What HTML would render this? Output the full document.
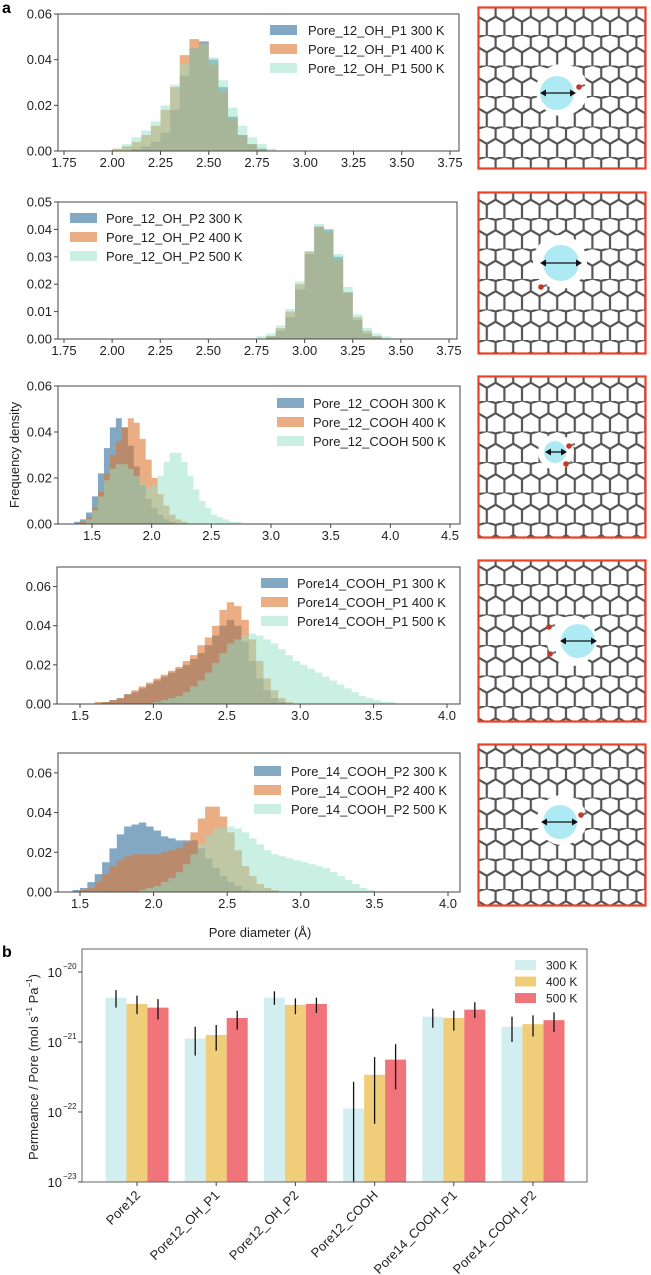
<!DOCTYPE html>
<html><head><meta charset="utf-8"><style>
html,body{margin:0;padding:0;background:#fff;overflow:hidden}
svg{display:block;font-family:"Liberation Sans",Arial,sans-serif}
</style></head><body>
<svg id="fig" width="651" height="1275" viewBox="0 0 651 1275" xmlns="http://www.w3.org/2000/svg">
<defs>
<pattern id="hex" patternUnits="userSpaceOnUse" width="17.6" height="30.5" x="478" y="4">
<path d="M0,2.54 L8.8,0 L17.6,2.54 M0,2.54 L0,12.7 M17.6,2.54 L17.6,12.7 M0,12.7 L8.8,17.8 L17.6,12.7 M8.8,17.8 L8.8,30.5" stroke="#555" stroke-width="2.2" fill="none"/>
</pattern>
</defs>
<text x="2" y="13" font-size="16" font-weight="bold">a</text>
<text x="2" y="957" font-size="16" font-weight="bold">b</text>
<text x="260" y="937" font-size="13" text-anchor="middle" fill="#222">Pore diameter (Å)</text>
<text transform="translate(19,455) rotate(-90)" font-size="13" text-anchor="middle" fill="#222">Frequency density</text>
<g id="hists"></g>
<g id="mols"></g>
<g id="bars"></g>
</svg>
<script>
// ---------- histogram data (bin width 0.05) ----------
const h1Start = 1.95;
const h1_300 = [0,0,0,0.001,0.002,0.004,0.008,0.018,0.033,0.045,0.048,0.040,0.028,0.015,0.007,0.003,0.001,0,0,0];
const h1_400 = [0,0.001,0.002,0.004,0.007,0.011,0.018,0.028,0.042,0.049,0.047,0.038,0.026,0.014,0.007,0.003,0.001,0,0,0];
const h1_500 = [0,0.001,0.003,0.006,0.009,0.013,0.020,0.029,0.038,0.045,0.047,0.041,0.031,0.019,0.011,0.006,0.003,0.001,0,0];
const h2Start = 2.75;
const h2_300 = [0,0.001,0.003,0.008,0.018,0.031,0.041,0.040,0.030,0.017,0.007,0.002,0.001,0];
const h2_400 = [0,0.001,0.004,0.010,0.020,0.032,0.041,0.039,0.029,0.017,0.008,0.003,0.001,0];
const h2_500 = [0.001,0.002,0.005,0.011,0.021,0.032,0.042,0.040,0.031,0.019,0.009,0.004,0.002,0.001];
const h3Start = 1.35;
const h3_300 = [0.001,0.002,0.005,0.012,0.022,0.033,0.042,0.046,0.042,0.034,0.025,0.017,0.011,0.007,0.004,0.002,0.001,0];
const h3_400 = [0,0.001,0.003,0.007,0.014,0.022,0.030,0.036,0.042,0.046,0.044,0.037,0.028,0.020,0.013,0.008,0.004,0.002,0.001];
const h3_500 = [0,0,0.002,0.006,0.012,0.019,0.024,0.026,0.026,0.024,0.021,0.018,0.016,0.017,0.021,0.027,0.031,0.031,0.027,0.021,0.015,0.010,0.007,0.004,0.003,0.002,0.001,0.001];
const h4Start = 1.6;
const h4_300 = [0,0.001,0.002,0.003,0.005,0.006,0.008,0.010,0.012,0.014,0.016,0.018,0.020,0.023,0.026,0.030,0.035,0.040,0.043,0.040,0.032,0.022,0.013,0.007,0.003,0.001];
const h4_400 = [0.001,0.001,0.002,0.003,0.005,0.007,0.009,0.011,0.013,0.015,0.017,0.019,0.022,0.025,0.030,0.034,0.040,0.048,0.052,0.050,0.043,0.033,0.022,0.013,0.007,0.003,0.001];
const h4_500 = [0,0,0,0,0,0,0,0,0.001,0.002,0.003,0.004,0.006,0.009,0.012,0.016,0.021,0.026,0.031,0.033,0.035,0.036,0.035,0.033,0.031,0.028,0.025,0.022,0.020,0.018,0.016,0.014,0.012,0.010,0.008,0.006,0.004,0.003,0.002,0.001,0.001];
const h5Start = 1.45;
const h5_300 = [0.001,0.002,0.005,0.009,0.015,0.022,0.029,0.033,0.034,0.035,0.033,0.031,0.028,0.027,0.026,0.026,0.026,0.022,0.017,0.012,0.008,0.005,0.003,0.001];
const h5_400 = [0,0.001,0.002,0.005,0.009,0.013,0.016,0.018,0.019,0.019,0.019,0.019,0.020,0.021,0.022,0.025,0.030,0.037,0.043,0.043,0.038,0.030,0.021,0.013,0.008,0.004,0.002,0.001];
const h5_500 = [0,0,0,0,0,0,0,0,0,0.001,0.002,0.003,0.005,0.007,0.010,0.014,0.019,0.024,0.029,0.032,0.033,0.033,0.032,0.030,0.027,0.024,0.021,0.019,0.018,0.017,0.016,0.015,0.014,0.013,0.012,0.010,0.008,0.006,0.004,0.002,0.001];

const legendNames = ["Pore_12_OH_P1","Pore_12_OH_P2","Pore_12_COOH","Pore14_COOH_P1","Pore_14_COOH_P2"];
const tempLabels = ["300 K","400 K","500 K"];

// ---------- bar chart data ----------
const barCategories = ["Pore12","Pore12_OH_P1","Pore12_OH_P2","Pore12_COOH","Pore14_COOH_P1","Pore14_COOH_P2"];
const perm300 = [4.3e-21,1.12e-21,4.3e-21,1.12e-22,2.3e-21,1.65e-21];
const perm400 = [3.5e-21,1.26e-21,3.4e-21,3.4e-22,2.2e-21,1.8e-21];
const perm500 = [3.1e-21,2.2e-21,3.5e-21,5.6e-22,2.9e-21,2.05e-21];
const err300Lo = [3.1e-21,6.4e-22,3.4e-21,1e-23,1.6e-21,1.0e-21];
const err300Hi = [5.5e-21,1.65e-21,5.3e-21,2.7e-22,3.0e-21,2.3e-21];
const err400Lo = [2.5e-21,7.5e-22,2.5e-21,6.8e-23,1.45e-21,1.2e-21];
const err400Hi = [4.6e-21,1.75e-21,4.2e-21,6.1e-22,2.8e-21,2.4e-21];
const err500Lo = [2.1e-21,1.5e-21,2.6e-21,2.1e-22,2.2e-21,1.4e-21];
const err500Hi = [4.1e-21,2.8e-21,4.3e-21,9.3e-22,3.7e-21,2.65e-21];
const barYTickExp = [-20,-21,-22,-23];

const NS="http://www.w3.org/2000/svg";
function mk(tag,attrs,parent){const e=document.createElementNS(NS,tag);for(const k in attrs)e.setAttribute(k,attrs[k]);if(parent)parent.appendChild(e);return e;}

const histColors=[["rgb(55,115,160)",0.62],["rgb(222,118,48)",0.6],["rgb(150,225,200)",0.5]];

const panels=[
 {top:14,bot:151,left:58,right:459,x0:1.75,x1:3.75,xpx0:64,xpx1:450,ymax:0.06,yt:[0,0.02,0.04,0.06],yd:2,xt:[1.75,2,2.25,2.5,2.75,3,3.25,3.5,3.75],xd:2,start:h1Start,data:[h1_300,h1_400,h1_500],lg:{sx:270,tx:308,y:30}},
 {top:202,bot:339,left:58,right:457,x0:1.75,x1:3.75,xpx0:64,xpx1:449,ymax:0.05,yt:[0,0.01,0.02,0.03,0.04,0.05],yd:2,xt:[1.75,2,2.25,2.5,2.75,3,3.25,3.5,3.75],xd:2,start:h2Start,data:[h2_300,h2_400,h2_500],lg:{sx:70,tx:106,y:218}},
 {top:386,bot:524,left:58,right:460,x0:1.5,x1:4.5,xpx0:92,xpx1:450,ymax:0.06,yt:[0,0.02,0.04,0.06],yd:2,xt:[1.5,2,2.5,3,3.5,4,4.5],xd:1,start:h3Start,data:[h3_300,h3_400,h3_500],lg:{sx:277,tx:313,y:403}},
 {top:567,bot:704,left:57,right:460,x0:1.5,x1:4.0,xpx0:80,xpx1:447,ymax:0.07,yt:[0,0.02,0.04,0.06],yd:2,xt:[1.5,2,2.5,3,3.5,4],xd:1,start:h4Start,data:[h4_300,h4_400,h4_500],lg:{sx:261,tx:297,y:583}},
 {top:753,bot:892,left:58,right:460,x0:1.5,x1:4.0,xpx0:80,xpx1:448,ymax:0.07,yt:[0,0.02,0.04,0.06],yd:2,xt:[1.5,2,2.5,3,3.5,4],xd:1,start:h5Start,data:[h5_300,h5_400,h5_500],lg:{sx:254,tx:291,y:771}}
];

const hg=document.getElementById('hists');
panels.forEach((p,pi)=>{
  const g=mk('g',{},hg);
  
  
  const X=v=>p.xpx0+(v-p.x0)*(p.xpx1-p.xpx0)/(p.x1-p.x0);
  const Y=v=>p.bot-v*(p.bot-p.top)/p.ymax;
  p.data.forEach((arr,si)=>{
    let d='M'+X(p.start)+','+Y(0);
    arr.forEach((v,i)=>{const a=X(p.start+i*0.05),b=X(p.start+(i+1)*0.05);d+=' L'+a+','+Y(v)+' L'+b+','+Y(v);});
    d+=' L'+X(p.start+arr.length*0.05)+','+Y(0)+'Z';
    const path=mk('path',{d:d,fill:histColors[si][0],'fill-opacity':histColors[si][1]},g);
    
    
  });
  const frame=mk('rect',{x:p.left,y:p.top,width:p.right-p.left,height:p.bot-p.top,fill:'none',stroke:'#444','stroke-width':1},g);
  
  
  p.yt.forEach(v=>{
    mk('line',{x1:p.left-4,x2:p.left,y1:Y(v),y2:Y(v),stroke:'#444'},g);
    const t=mk('text',{x:p.left-6,y:Y(v)+4.5,'font-size':13,'text-anchor':'end',fill:'#222'},g);
    t.textContent=v.toFixed(p.yd);
    
    
  });
  p.xt.forEach(v=>{
    mk('line',{x1:X(v),x2:X(v),y1:p.bot,y2:p.bot+4,stroke:'#444'},g);
    const t=mk('text',{x:X(v),y:p.bot+16,'font-size':13,'text-anchor':'middle',fill:'#222'},g);
    t.textContent=v.toFixed(p.xd);
    
    
  });
  tempLabels.forEach((tl,si)=>{
    const yy=p.lg.y+si*19;
    const sw=mk('rect',{x:p.lg.sx,y:yy-5,width:27,height:10,fill:histColors[si][0],'fill-opacity':histColors[si][1]},g);
    
    
    const t=mk('text',{x:p.lg.tx,y:yy+5,'font-size':13,fill:'#222'},g);
    t.textContent=legendNames[pi]+' '+tl;
    
    
  });
});

// ---------- molecular images ----------
const mols=[
 {y:7,cx:557,cy:93,r:17,ax0:540,ax1:576,hx:562,hy:90,hr:26,reds:[[579,87]]},
 {y:192,cx:561,cy:263,r:18,ax0:540,ax1:582,hx:560,hy:262,hr:27,reds:[[541,287]]},
 {y:376,cx:555,cy:452,r:11,ax0:545,ax1:567,hx:556,hy:452,hr:18,reds:[[569,446],[566,464]]},
 {y:560,cx:578,cy:641,r:17,ax0:560,ax1:597,hx:572,hy:641,hr:25,reds:[[549,627],[550,654]]},
 {y:744,cx:560,cy:822,r:17,ax0:541,ax1:578,hx:562,hy:820,hr:25,reds:[[581,815]]}
];
const mg=document.getElementById('mols');
mols.forEach((m,i)=>{
  const g=mk('g',{},mg);
  
  
  mk('rect',{x:478,y:m.y,width:168,height:162,fill:'url(#hex)'},g);
  mk('circle',{cx:m.hx,cy:m.hy,r:m.hr,fill:'#fff'},g);
  const c=mk('circle',{cx:m.cx,cy:m.cy,r:m.r,fill:'#aeeaf4'},g);
  
  
  m.reds.forEach(r=>{mk('line',{x1:r[0],y1:r[1],x2:r[0]+6,y2:r[1]-2,stroke:'#777','stroke-width':2},g);mk('circle',{cx:r[0],cy:r[1],r:2.8,fill:'#c0392b'},g);});
  mk('line',{x1:m.ax0+5,x2:m.ax1-5,y1:m.cy,y2:m.cy,stroke:'#111','stroke-width':1.3},g);
  mk('path',{d:`M${m.ax0},${m.cy} l6,-3.5 v7 z M${m.ax1},${m.cy} l-6,-3.5 v7 z`,fill:'#111'},g);
  const fr=mk('rect',{x:478.5,y:m.y+0.5,width:167,height:161,fill:'none',stroke:'#e8402a','stroke-width':2.2},g);
  
  
});

// ---------- bar chart ----------
const bg=document.getElementById('bars');
const bL=82,bR=587,bT=949,bB=1182,dec=70;
const BY=v=>bB-(Math.log10(v)+23)*dec;
const groupX=i=>137+i*79.2;
const bw=21;
const barCols=['#d3eef1','#f0cd78','#f07479'];
const series=[[perm300,err300Lo,err300Hi],[perm400,err400Lo,err400Hi],[perm500,err500Lo,err500Hi]];
series.forEach((s,si)=>{
  s[0].forEach((v,i)=>{
    const cx=groupX(i)+(si-1)*bw;
    const r=mk('rect',{x:cx-bw/2,y:BY(v),width:bw,height:bB-BY(v),fill:barCols[si]},bg);
    
    
  });
});
series.forEach((s,si)=>{
  s[0].forEach((v,i)=>{
    const cx=groupX(i)+(si-1)*bw;
    const e=mk('line',{x1:cx,x2:cx,y1:Math.min(bB,BY(s[1][i])),y2:BY(s[2][i]),stroke:'#111','stroke-width':1.3},bg);
    
    
  });
});
const bf=mk('rect',{x:bL,y:bT,width:bR-bL,height:bB-bT,fill:'none',stroke:'#666','stroke-width':1},bg);


barYTickExp.forEach(e=>{
  const y=BY(Math.pow(10,e));
  mk('line',{x1:bL-4,x2:bL,y1:y,y2:y,stroke:'#444'},bg);
  const t=mk('text',{x:bL-20,y:y+5,'font-size':13,'text-anchor':'end',fill:'#222'},bg);
  t.textContent='10';
  
  
  const s=mk('text',{x:bL-19,y:y-3,'font-size':8,fill:'#222'},bg);
  s.textContent='\u2212'+(-e);
  
  
});
barCategories.forEach((c,i)=>{
  const x=groupX(i);
  mk('line',{x1:x,x2:x,y1:bB,y2:bB+4,stroke:'#444'},bg);
  const t=mk('text',{transform:`translate(${x+4},${bB+14}) rotate(-45)`,'font-size':13,'text-anchor':'end',fill:'#222'},bg);
  t.textContent=c;
  
  
});
const yl=mk('text',{transform:'translate(38,1067) rotate(-90)','font-size':13,'text-anchor':'middle',fill:'#222'},bg);
yl.innerHTML='Permeance / Pore (mol s<tspan dy="-6" font-size="8">\u22121</tspan><tspan dy="6"> Pa</tspan><tspan dy="-6" font-size="8">\u22121</tspan><tspan dy="6">)</tspan>';


tempLabels.forEach((tl,si)=>{
  const y=965+si*16.5;
  const sw=mk('rect',{x:515,y:y-5,width:21,height:10,fill:barCols[si]},bg);
  
  
  const t=mk('text',{x:546,y:y+4.5,'font-size':12,fill:'#222'},bg);
  t.textContent=tl;
  
  
});
</script>
</body></html>
